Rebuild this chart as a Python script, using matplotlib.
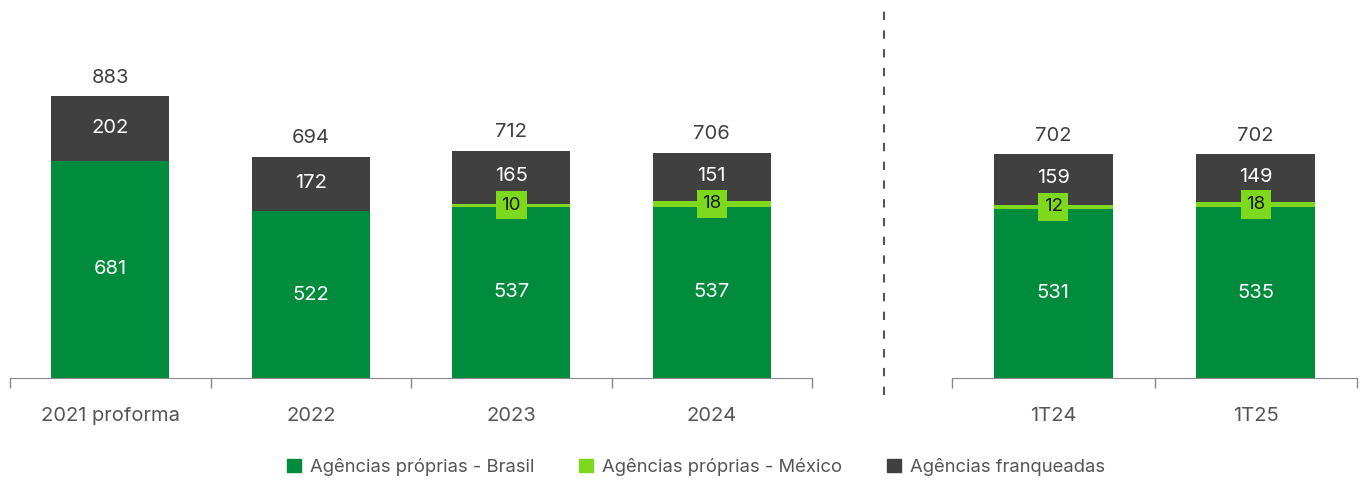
import matplotlib.pyplot as plt
from matplotlib.patches import Patch
import numpy as np

plt.rcParams['font.family'] = ['Inter', 'DejaVu Sans']

# data
years = ['2021 proforma', '2022', '2023', '2024']
brasil_y = [681, 522, 537, 537]
mexico_y = [0, 0, 10, 18]
franq_y = [202, 172, 165, 151]

quarters = ['1T24', '1T25']
brasil_q = [531, 535]
mexico_q = [12, 18]
franq_q = [159, 149]

GREEN = '#008C3C'
LIME = '#7ED91E'
DARK = '#404040'
TXT = '#555555'

fig = plt.figure(figsize=(13.62, 4.87), dpi=100)
ax1 = fig.add_axes([10 / 1362, 1 - 378 / 487, 802 / 1362, 348 / 487])
ax2 = fig.add_axes([952 / 1362, 1 - 378 / 487, 405 / 1362, 348 / 487])


def draw(ax, cats, br, mx, fr):
    x = np.arange(len(cats))
    w = 0.59
    br = np.array(br)
    mx = np.array(mx)
    fr = np.array(fr)
    ax.bar(x, br, w, color=GREEN)
    ax.bar(x, mx, w, bottom=br, color=LIME)
    ax.bar(x, fr, w, bottom=br + mx, color=DARK)
    total = br + mx + fr
    for i in range(len(cats)):
        ax.text(x[i], br[i] / 2, str(br[i]), ha='center', va='center',
                color='white', fontsize=14.5)
        ax.text(x[i], br[i] + mx[i] + fr[i] / 2 + 3, str(fr[i]), ha='center',
                va='center', color='white', fontsize=14.5)
        if mx[i] > 0:
            ax.text(x[i], br[i] + mx[i] / 2, str(mx[i]), ha='center',
                    va='center', color='#1a1a1a', fontsize=13.5,
                    bbox=dict(boxstyle='square,pad=0.3', fc=LIME, ec='none'))
        ax.text(x[i], total[i] + 30, str(total[i]), ha='center', va='bottom',
                color=DARK, fontsize=14.5)
    ax.set_xlim(-0.5, len(cats) - 0.5)
    ax.set_ylim(0, 1091)
    ax.set_xticks(x)
    ax.set_xticklabels(cats, fontsize=14.5, color=TXT)
    ax.tick_params(axis='x', length=0, pad=21)
    ax.set_xticks(np.arange(len(cats) + 1) - 0.5, minor=True)
    ax.tick_params(axis='x', which='minor', length=7, color='#888888', width=1)
    ax.set_yticks([])
    for s in ['top', 'right', 'left']:
        ax.spines[s].set_visible(False)
    ax.spines['bottom'].set_color('#888888')


draw(ax1, years, brasil_y, mexico_y, franq_y)
draw(ax2, quarters, brasil_q, mexico_q, franq_q)

fig.add_artist(plt.Line2D([884 / 1362, 884 / 1362], [1 - 395 / 487, 1 - 5 / 487],
                          transform=fig.transFigure, color='#555555',
                          linestyle=(0, (4, 5)), linewidth=1.5))

handles = [Patch(color=GREEN, label='Agências próprias - Brasil'),
           Patch(color=LIME, label='Agências próprias - México'),
           Patch(color=DARK, label='Agências franqueadas')]
leg = fig.legend(handles=handles, loc='center', bbox_to_anchor=(0.511, 1 - 467 / 487),
                 ncol=3, frameon=False, fontsize=13.3, handlelength=0.75,
                 handleheight=0.75, handletextpad=0.5, columnspacing=2.4)
for t in leg.get_texts():
    t.set_color(TXT)

fig.savefig('out.png', dpi=100)
